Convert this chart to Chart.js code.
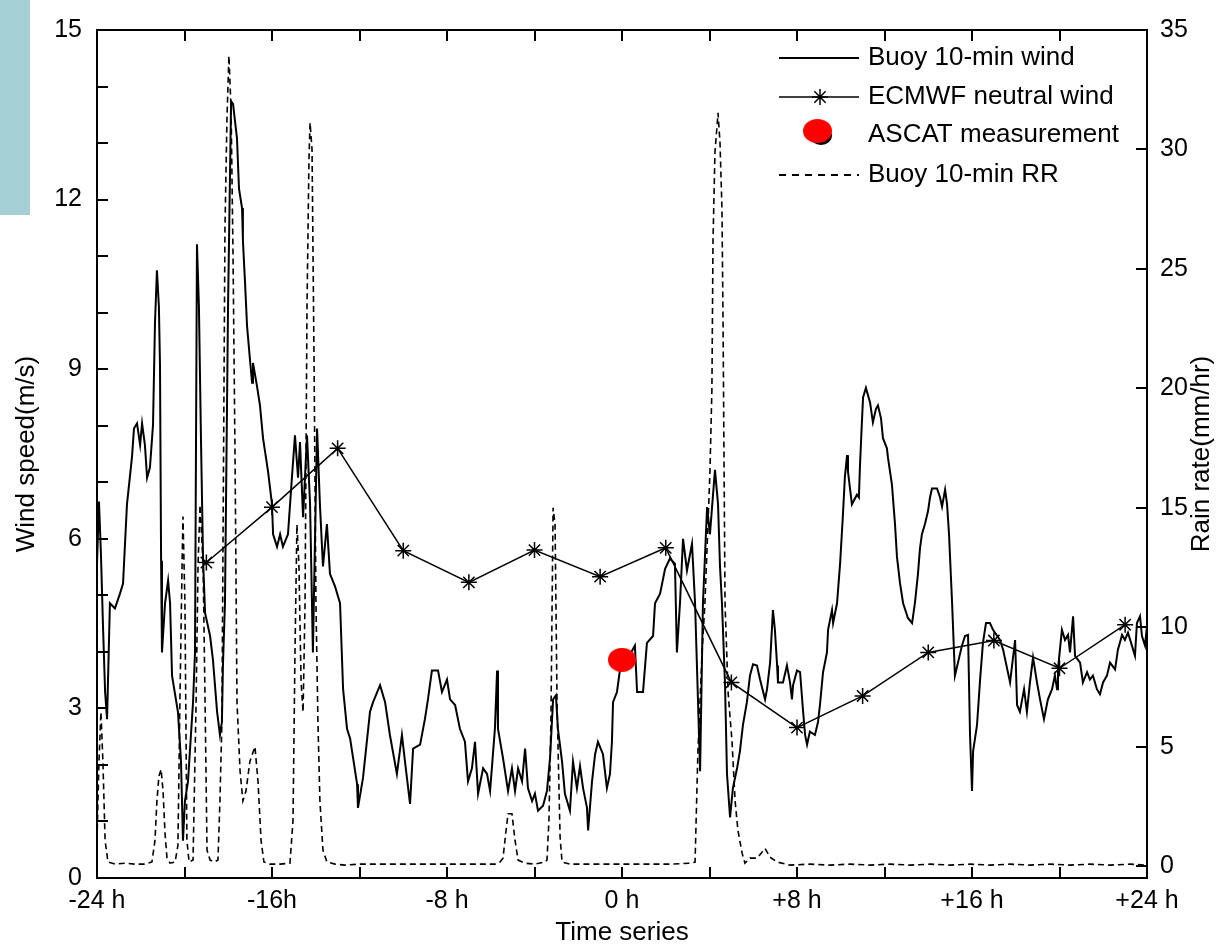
<!DOCTYPE html>
<html>
<head>
<meta charset="utf-8">
<title>Buoy wind and rain rate time series</title>
<script src="https://cdn.jsdelivr.net/npm/chart.js@4.4.1/dist/chart.umd.min.js"></script>
<style>
  html, body { margin: 0; padding: 0; background: #ffffff; }
  #wrap { position: relative; width: 1219px; height: 948px; }
  #slideBar { position: absolute; left: 0; top: 0; width: 30px; height: 215px; background: #a3cfd5; }
  #rainChart { position: absolute; left: 0; top: 0; }
</style>
</head>
<body>
<div id="wrap">
  <div id="slideBar"></div>
  <canvas id="rainChart" width="1219" height="948"></canvas>
</div>
<script>
// hours relative to the ASCAT overpass
const windHours = [
  -24.00,-23.91,-23.82,-23.73,-23.63,-23.54,-23.41,-23.18,-22.95,-22.81,
  -22.63,-22.40,-22.31,-22.17,-22.03,-21.94,-21.81,-21.71,-21.58,-21.44,
  -21.35,-21.26,-21.17,-21.12,-21.07,-21.03,-20.89,-20.75,-20.66,-20.57,
  -20.30,-20.16,-20.07,-19.98,-19.84,-19.61,-19.52,-19.43,-19.34,-19.25,
  -19.15,-19.06,-18.83,-18.70,-18.51,-18.38,-18.29,-18.24,-18.15,-18.01,
  -17.87,-17.78,-17.60,-17.51,-17.37,-17.33,-17.23,-17.14,-17.01,-16.91,
  -16.87,-16.69,-16.55,-16.41,-16.18,-16.00,-15.95,-15.77,-15.63,-15.50,
  -15.27,-15.09,-14.95,-14.81,-14.72,-14.58,-14.40,-14.26,-14.13,-13.94,
  -13.81,-13.67,-13.49,-13.35,-13.12,-12.89,-12.75,-12.57,-12.43,-12.11,
  -12.07,-11.84,-11.52,-11.38,-11.06,-10.83,-10.61,-10.29,-10.06,-9.92,
  -9.69,-9.55,-9.23,-9.01,-8.87,-8.69,-8.41,-8.23,-8.00,-7.86,
  -7.63,-7.41,-7.18,-7.04,-6.86,-6.72,-6.58,-6.35,-6.17,-6.03,
  -5.81,-5.71,-5.67,-5.44,-5.21,-5.03,-4.89,-4.75,-4.57,-4.43,
  -4.30,-4.11,-3.98,-3.84,-3.61,-3.43,-3.29,-3.15,-3.02,-2.93,
  -2.74,-2.61,-2.38,-2.24,-2.06,-1.92,-1.78,-1.60,-1.55,-1.37,
  -1.23,-1.10,-0.87,-0.69,-0.55,-0.46,-0.41,-0.23,-0.09,0.23,
  0.59,0.69,0.96,1.14,1.42,1.51,1.74,1.97,2.19,2.42,
  2.51,2.65,2.79,2.97,3.20,3.34,3.57,3.70,3.89,4.02,
  4.25,4.39,4.48,4.57,4.71,4.80,4.94,5.07,5.26,5.39,
  5.53,5.71,5.85,5.99,6.17,6.31,6.54,6.63,6.77,6.90,
  6.99,7.09,7.13,7.36,7.54,7.68,7.77,7.82,8.00,8.14,
  8.27,8.37,8.46,8.59,8.82,8.96,9.05,9.19,9.37,9.42,
  9.60,9.65,9.83,9.97,10.10,10.19,10.29,10.33,10.51,10.74,
  10.83,10.88,10.97,11.02,11.15,11.34,11.47,11.61,11.70,11.84,
  11.93,12.11,12.16,12.34,12.48,12.57,12.71,12.85,13.07,13.26,
  13.39,13.53,13.62,13.71,13.85,13.99,14.08,14.17,14.40,14.54,
  14.63,14.77,14.86,14.95,15.09,15.22,15.36,15.54,15.68,15.82,
  15.91,16.00,16.05,16.23,16.37,16.50,16.64,16.82,16.96,17.28,
  17.42,17.74,17.97,18.06,18.19,18.38,18.51,18.65,18.79,18.97,
  19.11,19.29,19.47,19.66,19.79,19.89,19.93,20.11,20.25,20.39,
  20.48,20.62,20.71,20.94,21.07,21.26,21.39,21.53,21.71,21.85,
  21.99,22.17,22.31,22.54,22.67,22.86,22.99,23.13,23.31,23.45,
  23.54,23.68,23.77,23.91,24.00
];
// buoy 10-min wind speed, m/s
const windSpeed = [
  5.56,6.66,5.73,4.51,3.29,2.81,4.86,4.77,5.03,5.21,
  6.61,7.45,7.95,8.04,7.66,8.04,7.66,7.08,7.26,8.01,
  9.81,10.75,10.10,9.06,5.61,3.99,4.86,5.26,4.86,3.58,
  2.94,2.06,0.66,1.36,1.71,3.11,3.99,11.21,10.10,7.83,
  5.61,4.69,4.28,3.86,2.94,2.53,2.76,3.81,4.86,10.10,
  13.74,13.69,13.08,12.20,11.85,11.28,10.51,9.76,9.18,8.76,
  9.11,8.71,8.36,7.78,7.19,6.61,6.08,5.86,6.08,5.86,
  6.08,7.08,7.83,7.08,7.71,6.38,7.83,6.61,3.99,7.95,
  6.61,5.51,6.26,5.38,5.16,4.86,3.34,2.64,2.47,1.66,
  1.24,1.77,2.94,3.11,3.41,3.11,2.53,1.84,2.53,2.06,
  1.31,2.29,2.36,2.81,3.16,3.67,3.67,3.29,3.51,3.16,
  3.06,2.64,2.41,1.71,1.94,2.41,1.49,1.94,1.84,1.54,
  2.64,3.67,2.64,2.12,1.54,1.94,1.54,1.94,1.71,2.29,
  1.59,1.36,1.49,1.19,1.28,1.54,2.12,3.16,3.23,2.64,
  2.06,1.49,1.19,2.06,1.59,1.98,1.59,1.24,0.84,1.71,
  2.19,2.41,2.19,1.59,1.84,2.41,3.11,3.29,3.69,3.86,
  4.11,3.29,3.29,4.16,4.28,4.86,5.03,5.47,5.65,5.56,
  3.99,4.86,6.00,5.44,5.91,4.86,1.89,4.86,6.56,6.08,
  7.22,6.61,5.51,4.86,3.41,1.84,1.07,1.59,1.94,2.24,
  2.71,3.11,3.58,3.78,3.76,3.51,3.16,3.34,3.81,4.74,
  4.39,3.76,3.46,3.46,3.76,3.46,3.16,3.41,3.67,3.64,
  2.99,2.53,2.36,2.59,2.53,2.76,3.06,3.64,3.99,4.39,
  4.74,4.51,4.86,5.56,6.43,7.10,7.48,7.19,6.61,6.78,
  6.73,7.31,8.09,8.50,8.67,8.41,8.06,8.30,8.36,8.13,
  7.78,7.60,7.43,6.96,6.26,5.68,5.21,4.86,4.60,4.51,
  4.86,5.38,5.82,6.08,6.26,6.49,6.73,6.89,6.89,6.73,
  6.57,6.87,6.61,6.08,4.86,3.58,3.81,4.11,4.28,4.30,
  2.53,1.54,2.24,2.71,3.51,4.16,4.51,4.51,4.39,4.21,
  4.04,3.46,4.21,3.06,2.94,3.34,2.94,3.46,3.90,3.46,
  3.16,2.81,3.16,3.34,3.58,3.34,3.69,4.39,4.21,4.30,
  3.99,4.63,3.93,3.81,3.46,3.64,3.51,3.58,3.34,3.25,
  3.46,3.58,3.81,3.69,4.04,4.30,4.21,4.34,4.11,3.93,
  4.51,4.63,4.28,4.11,4.46
];

const rainHours = [
  -24.00,-23.91,-23.82,-23.73,-23.63,-23.50,-23.18,-22.72,-22.26,-21.81,
  -21.49,-21.35,-21.26,-21.17,-21.07,-20.98,-20.89,-20.80,-20.66,-20.43,
  -20.30,-20.21,-20.11,-20.07,-19.98,-19.89,-19.79,-19.61,-19.47,-19.38,
  -19.29,-19.15,-19.06,-18.97,-18.83,-18.65,-18.47,-18.38,-18.29,-18.15,
  -18.06,-17.97,-17.87,-17.78,-17.69,-17.60,-17.46,-17.33,-17.19,-17.01,
  -16.78,-16.64,-16.50,-16.37,-16.09,-15.63,-15.18,-15.04,-14.95,-14.86,
  -14.77,-14.67,-14.58,-14.49,-14.40,-14.31,-14.26,-14.17,-14.08,-13.99,
  -13.90,-13.81,-13.67,-13.49,-13.12,-12.66,-11.98,-11.06,-10.15,-9.23,
  -8.32,-7.41,-6.49,-5.81,-5.58,-5.44,-5.30,-5.21,-5.03,-4.89,
  -4.75,-4.43,-3.98,-3.52,-3.43,-3.34,-3.25,-3.15,-3.06,-2.97,
  -2.83,-2.74,-2.38,-1.46,-0.55,0.37,1.28,2.19,3.11,3.34,
  3.47,3.66,3.79,3.93,4.02,4.11,4.16,4.25,4.39,4.48,
  4.57,4.62,4.71,4.85,5.03,5.17,5.30,5.49,5.62,5.85,
  6.17,6.40,6.54,6.77,7.09,7.68,8.59,9.51,10.42,11.34,
  12.25,13.17,14.08,14.99,15.91,16.82,17.74,18.65,19.57,20.48,
  21.39,22.31,23.22,24.00
];
// buoy 10-min rain rate, mm/hr
const rainRate = [
  1.07,4.38,6.45,4.38,1.07,0.17,0.08,0.12,0.08,0.08,
  0.17,1.07,2.73,3.76,4.05,3.14,1.36,0.33,0.12,0.17,
  0.87,6.86,12.64,14.63,10.99,1.07,0.17,0.25,6.86,12.64,
  15.12,12.64,6.86,0.66,0.25,0.17,0.25,2.73,6.03,26.69,
  31.24,33.93,31.65,25.45,17.19,6.86,3.97,2.73,3.14,4.38,
  5.00,3.55,1.07,0.17,0.08,0.08,0.12,1.90,8.93,14.30,
  12.64,7.69,6.45,10.99,23.39,29.59,31.12,30.00,21.32,10.99,
  6.03,2.73,0.66,0.17,0.08,0.04,0.08,0.08,0.08,0.08,
  0.08,0.08,0.08,0.08,0.17,0.33,1.49,2.19,2.19,1.07,
  0.25,0.12,0.08,0.17,0.25,1.90,6.03,15.00,14.30,6.86,
  1.20,0.17,0.08,0.08,0.08,0.08,0.08,0.08,0.12,0.17,
  4.79,8.93,10.99,14.30,16.49,19.96,26.16,29.88,31.53,30.29,
  27.52,22.69,10.99,7.27,5.21,2.73,1.49,0.54,0.12,0.33,
  0.33,0.58,0.74,0.37,0.17,0.04,0.08,0.04,0.08,0.04,
  0.08,0.04,0.08,0.04,0.08,0.04,0.08,0.04,0.08,0.04,
  0.08,0.04,0.08,0.04
];

// ECMWF neutral wind, every 3 hours
const ecmwfHours = [-19, -16, -13, -10, -7, -4, -1, 2, 5, 8, 11, 14, 17, 20, 23];
const ecmwfSpeed = [5.58, 6.56, 7.60, 5.79, 5.23, 5.80, 5.33, 5.84, 3.46, 2.66, 3.22, 3.99, 4.20, 3.71, 4.48];

// ASCAT retrieval
const ascatHours = [0];
const ascatSpeed = [3.86];

const xTickValues = [-24, -20, -16, -12, -8, -4, 0, 4, 8, 12, 16, 20, 24];
const xTickLabels = ['-24 h', '', '-16h', '', '-8 h', '', '0 h', '', '+8 h', '', '+16 h', '', '+24 h'];
const windTickValues = [0, 1, 2, 3, 4, 5, 6, 7, 8, 9, 10, 11, 12, 13, 14, 15];
const windTickLabels = ['0', '', '', '3', '', '', '6', '', '', '9', '', '', '12', '', '', '15'];
const rainTickValues = [0, 5, 10, 15, 20, 25, 30, 35];
const rainTickLabels = ['0', '5', '10', '15', '20', '25', '30', '35'];

const FONT = '"Liberation Sans", Arial, sans-serif';
const INK = '#000000';

function pairs(xs, ys) {
  return xs.map((x, i) => ({ x: x, y: ys[i] }));
}

// red ellipse used for the ASCAT point
function makeEllipse(w, h) {
  const c = document.createElement('canvas');
  c.width = w; c.height = h;
  const g = c.getContext('2d');
  g.fillStyle = '#ff0000';
  g.beginPath();
  g.ellipse(w / 2, h / 2, w / 2, h / 2, 0, 0, Math.PI * 2);
  g.fill();
  return c;
}
const ascatMarker = makeEllipse(28, 24);

function useTicks(values) {
  return scale => { scale.ticks = values.map(v => ({ value: v })); };
}
function labelFrom(values, labels) {
  return v => {
    const i = values.indexOf(v);
    return i >= 0 ? labels[i] : '';
  };
}

// inward tick marks and the axes box
const boxTicks = {
  id: 'boxTicks',
  afterDraw(chart) {
    const { ctx, chartArea: a, scales } = chart;
    const len = 11;
    ctx.save();
    ctx.strokeStyle = INK;
    ctx.lineWidth = 2;
    ctx.beginPath();
    xTickValues.forEach(v => {
      const px = Math.round(scales.x.getPixelForValue(v));
      ctx.moveTo(px, a.bottom); ctx.lineTo(px, a.bottom - len);
      ctx.moveTo(px, a.top); ctx.lineTo(px, a.top + len);
    });
    windTickValues.forEach(v => {
      const py = Math.round(scales.y.getPixelForValue(v));
      ctx.moveTo(a.left, py); ctx.lineTo(a.left + len, py);
    });
    rainTickValues.forEach(v => {
      const py = Math.round(scales.y1.getPixelForValue(v));
      ctx.moveTo(a.right, py); ctx.lineTo(a.right - len, py);
    });
    ctx.stroke();
    ctx.strokeRect(a.left, a.top, a.right - a.left, a.bottom - a.top);

    // right axis title reads bottom to top, like the left one
    ctx.fillStyle = INK;
    ctx.font = '26px ' + FONT;
    ctx.textAlign = 'center';
    ctx.textBaseline = 'middle';
    ctx.translate(1202, (a.top + a.bottom) / 2);
    ctx.rotate(-Math.PI / 2);
    ctx.fillText('Rain rate(mm/hr)', 0, 0);
    ctx.restore();
  }
};

// legend in the upper right corner of the axes
const cornerLegend = {
  id: 'cornerLegend',
  afterDraw(chart) {
    const ctx = chart.ctx;
    const ds = chart.data.datasets;
    const x0 = 779, x1 = 859, tx = 868;
    const rows = [58, 97, 132, 175];
    ctx.save();
    ctx.strokeStyle = INK;
    ctx.fillStyle = INK;
    ctx.font = '26px ' + FONT;
    ctx.textAlign = 'left';
    ctx.textBaseline = 'middle';

    ctx.lineWidth = 2;
    ctx.beginPath(); ctx.moveTo(x0, rows[0]); ctx.lineTo(x1, rows[0]); ctx.stroke();
    ctx.fillText(ds[0].label, tx, rows[0]);

    ctx.lineWidth = 1.5;
    ctx.beginPath(); ctx.moveTo(x0, rows[1]); ctx.lineTo(x1, rows[1]); ctx.stroke();
    Chart.helpers.drawPoint(ctx, { pointStyle: 'star', radius: 8, borderWidth: 1.5 }, 820, rows[1]);
    ctx.fillText(ds[1].label, tx, rows[1]);

    ctx.beginPath();
    ctx.ellipse(821, rows[2] + 4, 11, 9, 0, 0, Math.PI * 2);
    ctx.fill();
    ctx.drawImage(ascatMarker, 803, rows[2] - 13, 29, 24);
    ctx.fillStyle = INK;
    ctx.fillText(ds[2].label, tx, rows[2] + 3);

    ctx.lineWidth = 2;
    ctx.setLineDash([7, 6]);
    ctx.beginPath(); ctx.moveTo(x0, rows[3]); ctx.lineTo(x1, rows[3]); ctx.stroke();
    ctx.setLineDash([]);
    ctx.fillText(ds[3].label, tx, rows[3]);
    ctx.restore();
  }
};

const ctx = document.getElementById('rainChart').getContext('2d');

new Chart(ctx, {
  type: 'line',
  data: {
    datasets: [
      {
        label: 'Buoy 10-min wind',
        data: pairs(windHours, windSpeed),
        yAxisID: 'y',
        borderColor: INK,
        borderWidth: 2,
        pointRadius: 0,
        tension: 0,
        order: 2
      },
      {
        label: 'ECMWF neutral wind',
        data: pairs(ecmwfHours, ecmwfSpeed),
        yAxisID: 'y',
        borderColor: INK,
        borderWidth: 1.5,
        pointStyle: 'star',
        pointRadius: 8,
        pointBorderWidth: 1.5,
        pointBorderColor: INK,
        tension: 0,
        order: 1
      },
      {
        label: 'ASCAT measurement',
        data: pairs(ascatHours, ascatSpeed),
        yAxisID: 'y',
        showLine: false,
        pointStyle: ascatMarker,
        pointRadius: 14,
        order: 0
      },
      {
        label: 'Buoy 10-min RR',
        data: pairs(rainHours, rainRate),
        yAxisID: 'y1',
        borderColor: INK,
        borderWidth: 1.6,
        borderDash: [6, 4],
        pointRadius: 0,
        tension: 0,
        order: 3
      }
    ]
  },
  options: {
    responsive: false,
    animation: false,
    devicePixelRatio: 1,
    layout: { padding: { top: 20, left: 0, right: 0, bottom: 0 } },
    plugins: {
      legend: { display: false },
      tooltip: { enabled: false }
    },
    scales: {
      x: {
        type: 'linear',
        min: -24,
        max: 24,
        afterBuildTicks: useTicks(xTickValues),
        afterFit: s => { s.height = 70; },
        grid: { display: false, drawTicks: false },
        border: { display: false },
        ticks: {
          autoSkip: false,
          maxRotation: 0,
          padding: 8,
          color: INK,
          font: { family: FONT, size: 25 },
          callback: labelFrom(xTickValues, xTickLabels)
        },
        title: {
          display: true,
          text: 'Time series',
          color: INK,
          font: { family: FONT, size: 26 },
          padding: { top: 0, bottom: 0 }
        }
      },
      y: {
        type: 'linear',
        position: 'left',
        min: 0,
        max: 15,
        afterBuildTicks: useTicks(windTickValues),
        afterFit: s => { s.width = 97; },
        grid: { display: false, drawTicks: false },
        border: { display: false },
        ticks: {
          autoSkip: false,
          padding: 15,
          color: INK,
          font: { family: FONT, size: 25 },
          callback: labelFrom(windTickValues, windTickLabels)
        },
        title: {
          display: true,
          text: 'Wind speed(m/s)',
          color: INK,
          font: { family: FONT, size: 26 },
          padding: { top: 11, bottom: 0 }
        }
      },
      y1: {
        type: 'linear',
        position: 'right',
        min: -0.5,
        max: 35,
        afterBuildTicks: useTicks(rainTickValues),
        afterFit: s => { s.width = 72; },
        grid: { display: false, drawTicks: false },
        border: { display: false },
        ticks: {
          autoSkip: false,
          padding: 13,
          color: INK,
          font: { family: FONT, size: 25 },
          callback: labelFrom(rainTickValues, rainTickLabels)
        }
      }
    }
  },
  plugins: [boxTicks, cornerLegend]
});
</script>
</body>
</html>
